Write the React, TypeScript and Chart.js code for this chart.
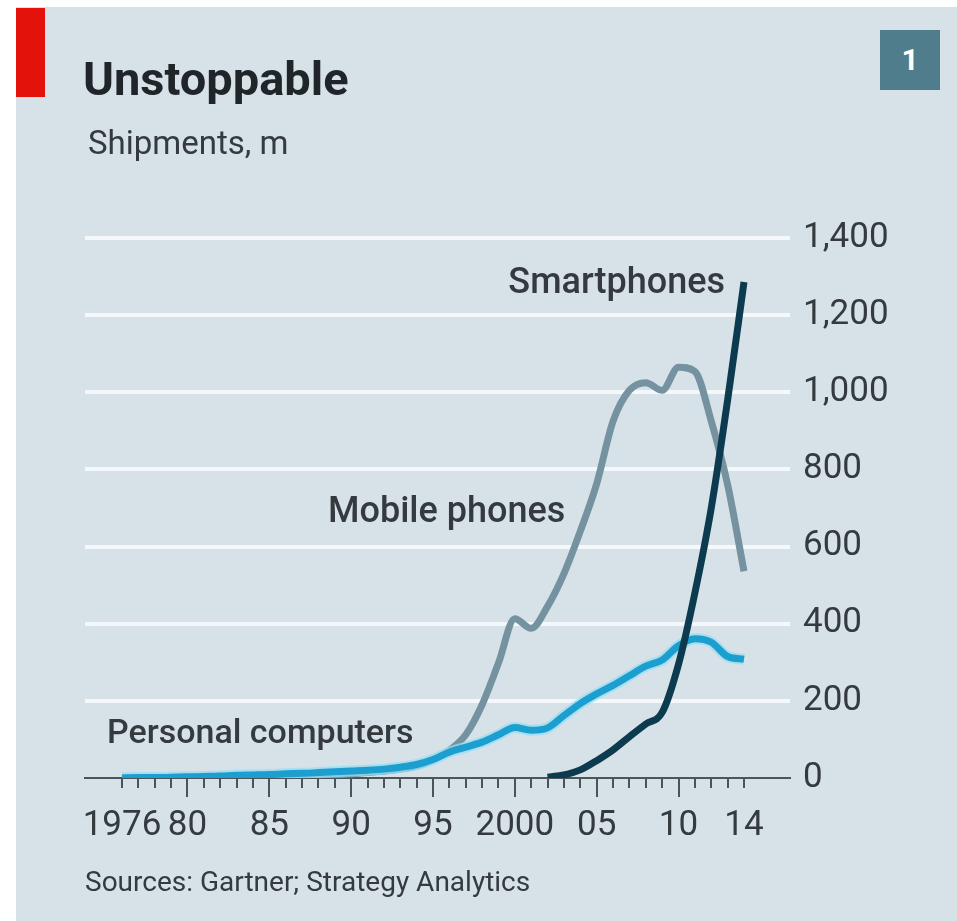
import React, { useEffect, useRef } from "react";
import { Chart, registerables } from "chart.js";

Chart.register(...registerables);

// ---------- data ----------
const years = [
  1976, 1977, 1978, 1979, 1980, 1981, 1982, 1983, 1984, 1985,
  1986, 1987, 1988, 1989, 1990, 1991, 1992, 1993, 1994, 1995,
  1996, 1997, 1998, 1999, 2000, 2001, 2002, 2003, 2004, 2005,
  2006, 2007, 2008, 2009, 2010, 2011, 2012, 2013, 2014,
];

const personalComputers = [
  0, 1, 1, 2, 3, 4, 5, 7, 8, 9,
  11, 12, 14, 16, 18, 20, 23, 28, 35, 48,
  67, 80, 93, 112, 131, 124, 130, 162, 193, 218,
  240, 265, 290, 306, 343, 361, 352, 315, 308,
];

const mobilePhones = [
  0, 0, 0, 0, 0, 0, 0, 1, 1, 2,
  3, 4, 6, 8, 11, 14, 18, 23, 31, 47,
  72, 112, 190, 298, 413, 388, 445, 530, 640, 763,
  925, 1005, 1025, 1005, 1065, 1054, 925, 760, 536,
];

const smartphones: (number | null)[] = [
  null, null, null, null, null, null, null, null, null, null,
  null, null, null, null, null, null, null, null, null, null,
  null, null, null, null, null, null, 2, 8, 21, 45,
  73, 107, 140, 170, 295, 480, 700, 980, 1286,
];

const xTickYears = [1976, 1980, 1985, 1990, 1995, 2000, 2005, 2010, 2014];
const xTickLabels = ["1976", "80", "85", "90", "95", "2000", "05", "10", "14"];
const yTickValues = [0, 200, 400, 600, 800, 1000, 1200, 1400];

// ---------- styles ----------
const BG = "#d7e2e8";
const GRID = "#f4f8fa";
const TEXT = "#343a3e";
const TITLE = "#1f2528";
const MOBILE = "#7592a1";
const PC = "#1c9fcf";
const PC_GLOW = "rgba(150,222,246,0.75)";
const SMART = "#0c3b4f";
const FONT = "Roboto, 'Open Sans', sans-serif";

const toPoints = (vals: (number | null)[]) =>
  years
    .map((yr, i) => ({ x: yr, y: vals[i] }))
    .filter((p) => p.y !== null && p.y !== undefined) as { x: number; y: number }[];

const yearTicksPlugin = {
  id: "yearTicks",
  afterDraw(chart: any) {
    const xs = chart.scales.x;
    const ctx = chart.ctx;
    const y0 = chart.chartArea.bottom;
    ctx.save();
    ctx.strokeStyle = "#4b5458";
    ctx.lineWidth = 2;
    years.forEach((yr) => {
      const x = Math.round(xs.getPixelForValue(yr));
      const len = yr % 5 === 0 ? 19 : 10;
      ctx.beginPath();
      ctx.moveTo(x, y0);
      ctx.lineTo(x, y0 + len);
      ctx.stroke();
    });
    ctx.restore();
  },
};

export default function App() {
  const ref = useRef<HTMLCanvasElement>(null);

  useEffect(() => {
    const canvas = ref.current;
    if (!canvas) return;
    const lineCommon = {
      pointRadius: 0,
      pointHoverRadius: 0,
      cubicInterpolationMode: "monotone" as const,
      borderJoinStyle: "round" as const,
      fill: false,
    };
    const chart = new Chart(canvas, {
      type: "line",
      data: {
        datasets: [
          { ...lineCommon, label: "Smartphones", data: toPoints(smartphones), borderColor: SMART, borderWidth: 7, order: 0 },
          { ...lineCommon, label: "Personal computers", data: toPoints(personalComputers), borderColor: PC, borderWidth: 7, order: 1 },
          { ...lineCommon, label: "Personal computers halo", data: toPoints(personalComputers), borderColor: PC_GLOW, borderWidth: 11, order: 2 },
          { ...lineCommon, label: "Mobile phones", data: toPoints(mobilePhones), borderColor: MOBILE, borderWidth: 7, order: 3 },
        ],
      },
      options: {
        responsive: false,
        animation: false,
        devicePixelRatio: 1,
        events: [],
        plugins: { legend: { display: false }, tooltip: { enabled: false } },
        layout: { padding: { top: 238, left: 85, right: 0, bottom: 0 } },
        scales: {
          x: {
            type: "linear",
            min: 1973.74,
            max: 2016.81,
            afterBuildTicks: (s: any) => {
              s.ticks = xTickYears.map((v) => ({ value: v }));
            },
            afterFit: (s: any) => {
              s.height = 143;
            },
            ticks: {
              autoSkip: false,
              maxRotation: 0,
              minRotation: 0,
              padding: 27,
              color: TEXT,
              font: { family: FONT, size: 35 },
              callback: (v: any) => {
                const i = xTickYears.indexOf(Number(v));
                return i >= 0 ? xTickLabels[i] : "";
              },
            },
            grid: { display: false, drawTicks: false },
            border: { display: true, color: "#4b5458", width: 2 },
          },
          y: {
            position: "right",
            min: 0,
            max: 1400,
            afterBuildTicks: (s: any) => {
              s.ticks = yTickValues.map((v) => ({ value: v }));
            },
            afterFit: (s: any) => {
              s.width = 167;
            },
            ticks: {
              padding: 13,
              color: TEXT,
              font: { family: FONT, size: 35 },
              callback: (v: any) => Number(v).toLocaleString("en-US"),
            },
            grid: {
              color: (c: any) => (c.tick && c.tick.value === 0 ? "rgba(0,0,0,0)" : GRID),
              lineWidth: 4,
              drawTicks: false,
            },
            border: { display: false },
          },
        },
      },
      plugins: [yearTicksPlugin],
    });
    return () => chart.destroy();
  }, []);

  const txt = (size: number, weight = 400, color = TEXT): React.CSSProperties => ({
    position: "absolute",
    fontFamily: FONT,
    fontSize: size,
    fontWeight: weight,
    lineHeight: 1,
    color,
    whiteSpace: "nowrap",
    margin: 0,
  });

  return (
    <div style={{ position: "absolute", left: 0, top: 0, width: 957, height: 921, background: "#ffffff", overflow: "hidden" }}>
      <div style={{ position: "absolute", left: 16, top: 7, width: 941, height: 914, background: BG }} />
      <div style={{ position: "absolute", left: 16, top: 8, width: 29, height: 89, background: "#e3120b" }} />
      <div
        style={{
          position: "absolute",
          left: 880,
          top: 30,
          width: 60,
          height: 60,
          background: "#4f7d8c",
          color: "#ffffff",
          fontFamily: FONT,
          fontWeight: 700,
          fontSize: 30,
          lineHeight: "60px",
          textAlign: "center",
        }}
      >
        1
      </div>
      <canvas ref={ref} width={957} height={921} style={{ position: "absolute", left: 0, top: 0, width: 957, height: 921 }} />
      <div style={{ ...txt(47, 700, TITLE), left: 83, top: 55.4 }}>Unstoppable</div>
      <div style={{ ...txt(33), left: 88, top: 126.2 }}>Shipments, m</div>
      <div style={{ ...txt(36, 500), right: 232, top: 262.7 }}>Smartphones</div>
      <div style={{ ...txt(36, 500), left: 328, top: 491.7 }}>Mobile phones</div>
      <div style={{ ...txt(34, 500), left: 107, top: 714.4 }}>Personal computers</div>
      <div style={{ ...txt(28), left: 85, top: 868.4 }}>Sources: Gartner; Strategy Analytics</div>
    </div>
  );
}
